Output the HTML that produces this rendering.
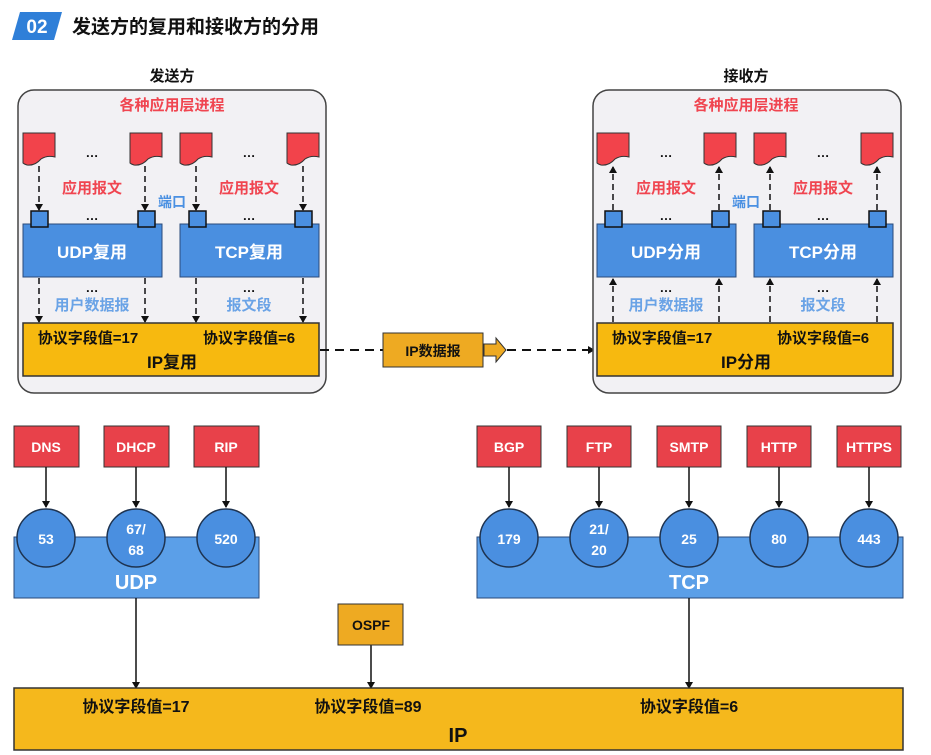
<!DOCTYPE html>
<html><head><meta charset="utf-8"><style>
body{margin:0;background:#fff;}
svg{display:block;font-family:"Liberation Sans","Noto Sans CJK SC",sans-serif;font-weight:bold;}
</style></head><body>
<svg width="931" height="755" viewBox="0 0 931 755" xmlns="http://www.w3.org/2000/svg">
<defs>
<marker id="ah" markerWidth="8" markerHeight="8" refX="6" refY="4" orient="auto" markerUnits="userSpaceOnUse"><path d="M0,0 L7,4 L0,8 Z" fill="#111"/></marker>
<path id="doc" d="M0,0 H32 V24 Q24,22 18,26 Q12,33 4,32 Q1,31 0,30 Z" fill="#f2434b" stroke="#333" stroke-width="1"/>
</defs>
<!-- header -->
<path d="M20,12 H62 L54,40 H12 Z" fill="#2f7fd8"/>
<text x="37" y="33" font-size="19" fill="#fff" text-anchor="middle">02</text>
<text x="72" y="33" font-size="19" fill="#111">发送方的复用和接收方的分用</text>

<!-- sender -->
<text x="172" y="81" font-size="15" fill="#111" text-anchor="middle">发送方</text>
<rect x="18" y="90" width="308" height="303" rx="16" fill="#f2f1f4" stroke="#444" stroke-width="1.5"/>
<text x="172" y="110" font-size="15" fill="#f04550" text-anchor="middle">各种应用层进程</text>
<use href="#doc" x="23" y="133"/><use href="#doc" x="130" y="133"/><use href="#doc" x="180" y="133"/><use href="#doc" x="287" y="133"/>
<text x="92" y="157" font-size="13" fill="#111" text-anchor="middle">…</text>
<text x="249" y="157" font-size="13" fill="#111" text-anchor="middle">…</text>
<g stroke="#111" stroke-width="1.5" stroke-dasharray="6,4" marker-end="url(#ah)">
<line x1="39" y1="166" x2="39" y2="210"/><line x1="145" y1="166" x2="145" y2="210"/><line x1="196" y1="166" x2="196" y2="210"/><line x1="303" y1="166" x2="303" y2="210"/>
<line x1="39" y1="278" x2="39" y2="322"/><line x1="145" y1="278" x2="145" y2="322"/><line x1="196" y1="278" x2="196" y2="322"/><line x1="303" y1="278" x2="303" y2="322"/>
</g>
<text x="92" y="193" font-size="15" fill="#f04550" text-anchor="middle">应用报文</text>
<text x="249" y="193" font-size="15" fill="#f04550" text-anchor="middle">应用报文</text>
<text x="172" y="207" font-size="14" fill="#4a90e2" text-anchor="middle">端口</text>
<rect x="23" y="224" width="139" height="53" fill="#4a8fe0" stroke="#2a4a7a" stroke-width="1"/>
<rect x="180" y="224" width="139" height="53" fill="#4a8fe0" stroke="#2a4a7a" stroke-width="1"/>
<g fill="#4a8fe0" stroke="#111" stroke-width="1.5">
<rect x="31" y="211" width="17" height="16"/><rect x="138" y="211" width="17" height="16"/><rect x="189" y="211" width="17" height="16"/><rect x="295" y="211" width="17" height="16"/>
</g>
<text x="92" y="220" font-size="13" fill="#111" text-anchor="middle">…</text>
<text x="249" y="220" font-size="13" fill="#111" text-anchor="middle">…</text>
<text x="92" y="258" font-size="17" fill="#fff" text-anchor="middle">UDP复用</text>
<text x="249" y="258" font-size="17" fill="#fff" text-anchor="middle">TCP复用</text>
<text x="92" y="292" font-size="13" fill="#111" text-anchor="middle">…</text>
<text x="249" y="292" font-size="13" fill="#111" text-anchor="middle">…</text>
<text x="92" y="310" font-size="15" fill="#6aa3e6" text-anchor="middle">用户数据报</text>
<text x="249" y="310" font-size="15" fill="#6aa3e6" text-anchor="middle">报文段</text>
<rect x="23" y="323" width="296" height="53" fill="#f7b90f" stroke="#333" stroke-width="1.5"/>
<text x="88" y="343" font-size="15" fill="#111" text-anchor="middle">协议字段值=17</text>
<text x="249" y="343" font-size="15" fill="#111" text-anchor="middle">协议字段值=6</text>
<text x="172" y="368" font-size="17" fill="#111" text-anchor="middle">IP复用</text>

<!-- middle -->
<line x1="320" y1="350" x2="393" y2="350" stroke="#111" stroke-width="2" stroke-dasharray="9,6"/>
<rect x="383" y="333" width="100" height="34" fill="#eeaa22" stroke="#333" stroke-width="1"/>
<path d="M484,344 H496 V338 L506,350 L496,362 V356 H484 Z" fill="#eeaa22" stroke="#333" stroke-width="1"/>
<text x="433" y="356" font-size="14" fill="#111" text-anchor="middle">IP数据报</text>
<line x1="507" y1="350" x2="594" y2="350" stroke="#111" stroke-width="2" stroke-dasharray="9,6" marker-end="url(#ah)"/>

<!-- receiver -->
<text x="746" y="81" font-size="15" fill="#111" text-anchor="middle">接收方</text>
<rect x="593" y="90" width="308" height="303" rx="16" fill="#f2f1f4" stroke="#444" stroke-width="1.5"/>
<text x="746" y="110" font-size="15" fill="#f04550" text-anchor="middle">各种应用层进程</text>
<use href="#doc" x="597" y="133"/><use href="#doc" x="704" y="133"/><use href="#doc" x="754" y="133"/><use href="#doc" x="861" y="133"/>
<text x="666" y="157" font-size="13" fill="#111" text-anchor="middle">…</text>
<text x="823" y="157" font-size="13" fill="#111" text-anchor="middle">…</text>
<g stroke="#111" stroke-width="1.5" stroke-dasharray="6,4" marker-end="url(#ah)">
<line x1="613" y1="210" x2="613" y2="167"/><line x1="719" y1="210" x2="719" y2="167"/><line x1="770" y1="210" x2="770" y2="167"/><line x1="877" y1="210" x2="877" y2="167"/>
<line x1="613" y1="322" x2="613" y2="279"/><line x1="719" y1="322" x2="719" y2="279"/><line x1="770" y1="322" x2="770" y2="279"/><line x1="877" y1="322" x2="877" y2="279"/>
</g>
<text x="666" y="193" font-size="15" fill="#f04550" text-anchor="middle">应用报文</text>
<text x="823" y="193" font-size="15" fill="#f04550" text-anchor="middle">应用报文</text>
<text x="746" y="207" font-size="14" fill="#4a90e2" text-anchor="middle">端口</text>
<rect x="597" y="224" width="139" height="53" fill="#4a8fe0" stroke="#2a4a7a" stroke-width="1"/>
<rect x="754" y="224" width="139" height="53" fill="#4a8fe0" stroke="#2a4a7a" stroke-width="1"/>
<g fill="#4a8fe0" stroke="#111" stroke-width="1.5">
<rect x="605" y="211" width="17" height="16"/><rect x="712" y="211" width="17" height="16"/><rect x="763" y="211" width="17" height="16"/><rect x="869" y="211" width="17" height="16"/>
</g>
<text x="666" y="220" font-size="13" fill="#111" text-anchor="middle">…</text>
<text x="823" y="220" font-size="13" fill="#111" text-anchor="middle">…</text>
<text x="666" y="258" font-size="17" fill="#fff" text-anchor="middle">UDP分用</text>
<text x="823" y="258" font-size="17" fill="#fff" text-anchor="middle">TCP分用</text>
<text x="666" y="292" font-size="13" fill="#111" text-anchor="middle">…</text>
<text x="823" y="292" font-size="13" fill="#111" text-anchor="middle">…</text>
<text x="666" y="310" font-size="15" fill="#6aa3e6" text-anchor="middle">用户数据报</text>
<text x="823" y="310" font-size="15" fill="#6aa3e6" text-anchor="middle">报文段</text>
<rect x="597" y="323" width="296" height="53" fill="#f7b90f" stroke="#333" stroke-width="1.5"/>
<text x="662" y="343" font-size="15" fill="#111" text-anchor="middle">协议字段值=17</text>
<text x="823" y="343" font-size="15" fill="#111" text-anchor="middle">协议字段值=6</text>
<text x="746" y="368" font-size="17" fill="#111" text-anchor="middle">IP分用</text>

<!-- bottom -->
<rect x="14" y="537" width="245" height="61" fill="#5b9fe8" stroke="#2a4a7a" stroke-width="1"/>
<rect x="477" y="537" width="426" height="61" fill="#5b9fe8" stroke="#2a4a7a" stroke-width="1"/>
<g fill="#e8414a" stroke="#333" stroke-width="1">
<rect x="14" y="426" width="65" height="41"/><rect x="104" y="426" width="65" height="41"/><rect x="194" y="426" width="65" height="41"/>
<rect x="477" y="426" width="64" height="41"/><rect x="567" y="426" width="64" height="41"/><rect x="657" y="426" width="64" height="41"/><rect x="747" y="426" width="64" height="41"/><rect x="837" y="426" width="64" height="41"/>
</g>
<g font-size="14" fill="#fff" text-anchor="middle">
<text x="46" y="452">DNS</text><text x="136" y="452">DHCP</text><text x="226" y="452">RIP</text>
<text x="509" y="452">BGP</text><text x="599" y="452">FTP</text><text x="689" y="452">SMTP</text><text x="779" y="452">HTTP</text><text x="869" y="452">HTTPS</text>
</g>
<g stroke="#111" stroke-width="1.5" marker-end="url(#ah)">
<line x1="46" y1="467" x2="46" y2="507"/><line x1="136" y1="467" x2="136" y2="507"/><line x1="226" y1="467" x2="226" y2="507"/>
<line x1="509" y1="467" x2="509" y2="507"/><line x1="599" y1="467" x2="599" y2="507"/><line x1="689" y1="467" x2="689" y2="507"/><line x1="779" y1="467" x2="779" y2="507"/><line x1="869" y1="467" x2="869" y2="507"/>
<line x1="136" y1="598" x2="136" y2="688"/><line x1="689" y1="598" x2="689" y2="688"/><line x1="371" y1="645" x2="371" y2="688"/>
</g>
<g fill="#4a8fe0" stroke="#1e3350" stroke-width="1.5">
<circle cx="46" cy="538" r="29"/><circle cx="136" cy="538" r="29"/><circle cx="226" cy="538" r="29"/>
<circle cx="509" cy="538" r="29"/><circle cx="599" cy="538" r="29"/><circle cx="689" cy="538" r="29"/><circle cx="779" cy="538" r="29"/><circle cx="869" cy="538" r="29"/>
</g>
<g font-size="14" fill="#fff" text-anchor="middle">
<text x="46" y="544">53</text><text x="136" y="534">67/</text><text x="136" y="555">68</text><text x="226" y="544">520</text>
<text x="509" y="544">179</text><text x="599" y="534">21/</text><text x="599" y="555">20</text><text x="689" y="544">25</text><text x="779" y="544">80</text><text x="869" y="544">443</text>
</g>
<text x="136" y="589" font-size="20" fill="#fff" text-anchor="middle">UDP</text>
<text x="689" y="589" font-size="20" fill="#fff" text-anchor="middle">TCP</text>
<rect x="338" y="604" width="65" height="41" fill="#eeaa22" stroke="#333" stroke-width="1"/>
<text x="371" y="630" font-size="14" fill="#111" text-anchor="middle">OSPF</text>
<rect x="14" y="688" width="889" height="62" fill="#f5b81c" stroke="#333" stroke-width="1.5"/>
<g font-size="16" fill="#111" text-anchor="middle">
<text x="136" y="712">协议字段值=17</text><text x="368" y="712">协议字段值=89</text><text x="689" y="712">协议字段值=6</text>
</g>
<text x="458" y="742" font-size="20" fill="#111" text-anchor="middle">IP</text>
</svg>
</body></html>
